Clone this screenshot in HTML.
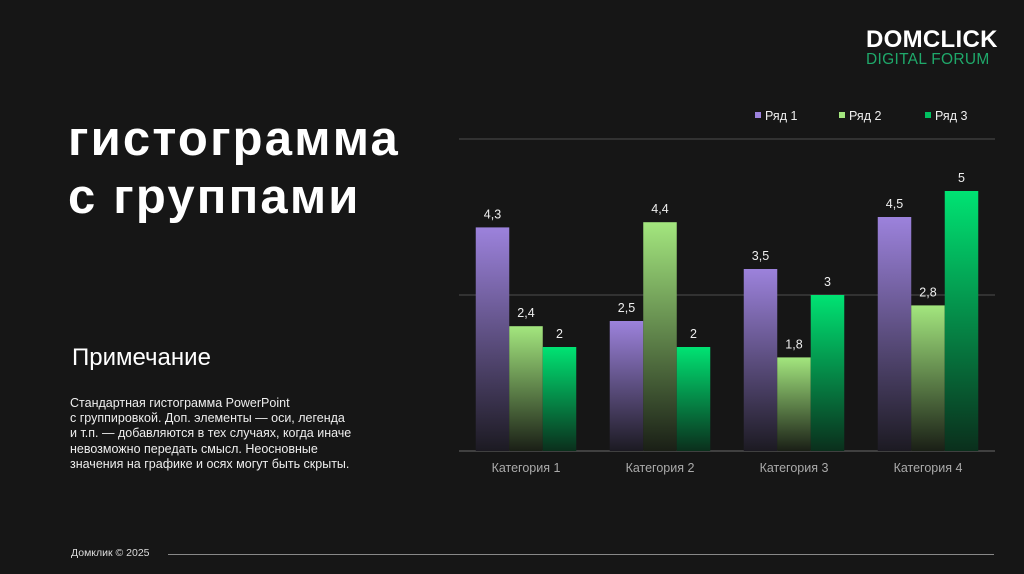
<!DOCTYPE html>
<html><head><meta charset="utf-8">
<style>
body{margin:0;width:1024px;height:574px;background:#161616;overflow:hidden;position:relative;font-family:"Liberation Sans","DejaVu Sans",sans-serif;color:#fff}
.t{position:absolute;white-space:nowrap}
</style></head><body>
<div class="t" style="left:866px;top:26px;font-size:24px;font-weight:bold;letter-spacing:0.3px;color:#fff">DOMCLICK</div>
<div class="t" style="left:866px;top:51px;font-size:15.5px;letter-spacing:0.3px;color:#1fa86a">DIGITAL FORUM</div>
<div class="t" style="left:68px;top:110px;font-size:49px;font-weight:bold;line-height:58px;letter-spacing:2.2px">гистограмма<br>с группами</div>
<div class="t" style="left:72px;top:344px;font-size:24px">Примечание</div>
<div class="t" style="left:70px;top:396px;font-size:12.5px;line-height:15.2px;color:#eee">Стандартная гистограмма PowerPoint<br>с группировкой. Доп. элементы — оси, легенда<br>и т.п. — добавляются в тех случаях, когда иначе<br>невозможно передать смысл. Неосновные<br>значения на графике и осях могут быть скрыты.</div>
<div class="t" style="left:71px;top:547px;font-size:10.5px;color:#ddd">Домклик © 2025</div>
<div style="position:absolute;left:168px;top:554px;width:826px;height:1px;background:#888"></div>
<svg id="chart" width="1024" height="574" style="position:absolute;left:0;top:0">
<defs>
<linearGradient id="g0" x1="0" y1="0" x2="0" y2="1"><stop offset="0" stop-color="#9c82dc"/><stop offset="1" stop-color="#1c1a22"/></linearGradient>
<linearGradient id="g1" x1="0" y1="0" x2="0" y2="1"><stop offset="0" stop-color="#a3e67e"/><stop offset="1" stop-color="#1a1f16"/></linearGradient>
<linearGradient id="g2" x1="0" y1="0" x2="0" y2="1"><stop offset="0" stop-color="#00e373"/><stop offset="1" stop-color="#0a2f1c"/></linearGradient>
</defs>
</svg>
<script>
const categories=["Категория 1","Категория 2","Категория 3","Категория 4"];
const seriesNames=["Ряд 1","Ряд 2","Ряд 3"];
const series1=[4.3,2.5,3.5,4.5];
const series2=[2.4,4.4,1.8,2.8];
const series3=[2,2,3,5];
const labels1=["4,3","2,5","3,5","4,5"];
const labels2=["2,4","4,4","1,8","2,8"];
const labels3=["2","2","3","5"];
const gridVals=[0,3,6];
const svg=document.getElementById('chart');
const NS='http://www.w3.org/2000/svg';
const x0=459,x1=995,y0=451,yMax=6,yTop=139;
const y=v=>y0-(v/yMax)*(y0-yTop);
const band=(x1-x0)/categories.length,bw=band/4;
function mk(t,a){const e=document.createElementNS(NS,t);for(const k in a)e.setAttribute(k,a[k]);svg.appendChild(e);return e;}
gridVals.forEach(v=>{const l=mk('line',{x1:x0,x2:x1,y1:y(v),y2:y(v),stroke:v===0?'#5a5a5a':'#444','stroke-width':1.3});

});
const all=[series1,series2,series3],labs=[labels1,labels2,labels3];
all.forEach((s,si)=>s.forEach((v,ci)=>{
const bx=x0+ci*band+bw/2+si*bw;
const r=mk('rect',{x:bx,y:y(v),width:bw,height:y0-y(v),fill:`url(#g${si})`});


const t=mk('text',{x:bx+bw/2,y:y(v)-9,'text-anchor':'middle','font-size':12.5,fill:'#eee','font-family':'Liberation Sans, sans-serif'});
t.textContent=labs[si][ci];


}));
categories.forEach((c,ci)=>{const t=mk('text',{x:x0+ci*band+band/2,y:472,'text-anchor':'middle','font-size':12.5,fill:'#aaa','font-family':'Liberation Sans, sans-serif'});t.textContent=c;

});
const legX=[755,839,925],legC=['#9c82dc','#a3e67e','#00c060'];
seriesNames.forEach((n,i)=>{const r=mk('rect',{x:legX[i],y:112,width:6,height:6,fill:legC[i]});


const t=mk('text',{x:legX[i]+10,y:120,'font-size':12.5,fill:'#eee','font-family':'Liberation Sans, sans-serif'});t.textContent=n;

});
</script>
</body></html>
